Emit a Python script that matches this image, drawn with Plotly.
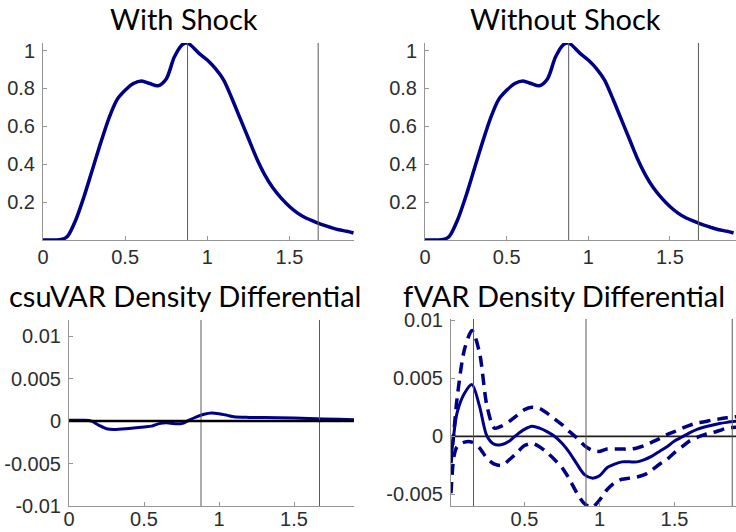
import plotly.graph_objects as go

# ---------------- data ----------------
grid_x = [0.0, 0.05, 0.1, 0.13, 0.15, 0.2, 0.25, 0.3, 0.35, 0.4, 0.45, 0.5, 0.55, 0.6, 0.65, 0.7,
          0.75, 0.8, 0.85, 0.88, 0.9, 0.95, 1.0, 1.05, 1.1, 1.15, 1.2, 1.25, 1.3, 1.35, 1.4,
          1.45, 1.5, 1.55, 1.6, 1.65, 1.7, 1.75, 1.8, 1.85, 1.89]
density_with = [0.0, 0.0, 0.002, 0.008, 0.02, 0.107, 0.23, 0.37, 0.51, 0.64, 0.74, 0.79, 0.826,
                0.84, 0.826, 0.814, 0.85, 0.967, 1.033, 1.04, 1.028, 0.985, 0.95, 0.905, 0.844,
                0.747, 0.642, 0.537, 0.432, 0.344, 0.274, 0.221, 0.177, 0.142, 0.116, 0.098,
                0.081, 0.067, 0.054, 0.046, 0.037]
density_without = [0.0, 0.0, 0.002, 0.008, 0.02, 0.107, 0.23, 0.37, 0.51, 0.64, 0.74, 0.79, 0.826,
                   0.84, 0.826, 0.814, 0.85, 0.967, 1.033, 1.04, 1.028, 0.985, 0.95, 0.905, 0.844,
                   0.747, 0.642, 0.537, 0.432, 0.344, 0.274, 0.221, 0.177, 0.142, 0.116, 0.098,
                   0.081, 0.067, 0.054, 0.046, 0.037]
top_vlines = [0.88, 1.675]

csu_x = [0.0, 0.1, 0.15, 0.2, 0.25, 0.3, 0.4, 0.5, 0.55, 0.6, 0.65, 0.7, 0.75, 0.8, 0.85, 0.9,
         0.95, 1.0, 1.05, 1.1, 1.2, 1.4, 1.6, 1.8, 1.9]
csu_diff = [0.0001, 0.0001, 0.0, -0.0005, -0.0009, -0.001, -0.00087, -0.0007, -0.0006, -0.0003,
            -0.0002, -0.0003, -0.0003, 0.0001, 0.0005, 0.0008, 0.00095, 0.00087, 0.0007, 0.0005,
            0.00043, 0.0004, 0.0003, 0.0002, 0.00015]
csu_vlines = [0.88, 1.67]

f_x = [0.01, 0.03, 0.05, 0.1, 0.15, 0.2, 0.25, 0.3, 0.35, 0.4, 0.45, 0.5, 0.55, 0.6, 0.65, 0.7,
       0.75, 0.8, 0.85, 0.9, 0.95, 1.0, 1.05, 1.1, 1.15, 1.2, 1.25, 1.3, 1.35, 1.4, 1.45, 1.5,
       1.55, 1.6, 1.65, 1.7, 1.75, 1.8, 1.85, 1.92]
f_diff = [-0.002, 0.0003, 0.002, 0.0037, 0.00445, 0.0026, 0.0, -0.0007, -0.0007, -0.0004, 0.00015,
          0.0006, 0.00086, 0.0007, 0.0004, 0.0, -0.0006, -0.0014, -0.0024, -0.0033, -0.0036,
          -0.0034, -0.0027, -0.0024, -0.0022, -0.0022, -0.0022, -0.002, -0.0017, -0.0013,
          -0.0009, -0.0004, -0.00006, 0.0003, 0.0006, 0.0008, 0.00095, 0.0011, 0.0012, 0.0013]
f_upper = [-0.0023, 0.0005, 0.0032, 0.0075, 0.0091, 0.0072, 0.0026, 0.0007, 0.0009, 0.0013,
           0.0018, 0.0023, 0.0025, 0.0024, 0.002, 0.0015, 0.001, 0.0004, -0.00015, -0.0008,
           -0.0012, -0.0013, -0.0011, -0.0011, -0.0011, -0.0011, -0.001, -0.0008, -0.0005,
           -0.0002, 0.00015, 0.0004, 0.0007, 0.00095, 0.00115, 0.00126, 0.0014, 0.0015, 0.0016,
           0.0017]
f_lower = [-0.0049, -0.0017, -0.0009, -0.0005, -0.0005, -0.001, -0.0019, -0.0024, -0.0025, -0.002,
           -0.0014, -0.0008, -0.0006, -0.0009, -0.0014, -0.002, -0.0027, -0.0037, -0.0049,
           -0.0058, -0.0061, -0.0055, -0.0046, -0.004, -0.0037, -0.0036, -0.0035, -0.0033,
           -0.0029, -0.0024, -0.002, -0.0014, -0.0009, -0.0004, -0.0001, 0.00015, 0.0003,
           0.0005, 0.0007, 0.0008]
f_vlines = [0.16, 0.91, 1.885]

titles = ["With Shock", "Without Shock", "csuVAR Density Differential", "fVAR Density Differential"]

# ---------------- styling ----------------
W, H = 736, 532
NAVY = "rgb(0,0,135)"
AX = "rgb(150,150,150)"
TICKFONT = dict(family="Liberation Sans, Arial, sans-serif", size=20, color="rgb(45,45,45)")
TITLEFONT = dict(family="Lato, sans-serif", size=29, color="black")


def px_dom_x(a, b):
    return [a / W, min(b / W, 1.0)]


def px_dom_y(top, bottom):
    return [1 - bottom / H, 1 - top / H]


panels = [
    dict(xd=px_dom_x(43, 354), yd=px_dom_y(43, 240), xr=[0, 1.893], yr=[0, 1.04],
         xt=[0, 0.5, 1, 1.5], xtl=["0", "0.5", "1", "1.5"],
         yt=[0.2, 0.4, 0.6, 0.8, 1], ytl=["0.2", "0.4", "0.6", "0.8", "1"], xstand=-1,
         title_x=184, title_y=19),
    dict(xd=px_dom_x(425, 736), yd=px_dom_y(43, 240), xr=[0, 1.905], yr=[0, 1.04],
         xt=[0, 0.5, 1, 1.5], xtl=["0", "0.5", "1", "1.5"],
         yt=[0.2, 0.4, 0.6, 0.8, 1], ytl=["0.2", "0.4", "0.6", "0.8", "1"], xstand=-1,
         title_x=565, title_y=19),
    dict(xd=px_dom_x(69, 354), yd=px_dom_y(320, 506), xr=[0, 1.9], yr=[-0.01, 0.0119],
         xt=[0, 0.5, 1, 1.5], xtl=["0", "0.5", "1", "1.5"],
         yt=[-0.01, -0.005, 0, 0.005, 0.01], ytl=["-0.01", "-0.005", "0", "0.005", "0.01"], xstand=-5,
         title_x=185, title_y=295),
    dict(xd=px_dom_x(451, 736), yd=px_dom_y(319, 506), xr=[0.01, 1.91], yr=[-0.006, 0.0101],
         xt=[0.5, 1, 1.5], xtl=["0.5", "1", "1.5"],
         yt=[-0.005, 0, 0.005, 0.01], ytl=["-0.005", "0", "0.005", "0.01"], xstand=-5,
         title_x=564, title_y=295),
]

fig = go.Figure()
layout = dict(width=W, height=H, margin=dict(l=0, r=0, t=0, b=0, autoexpand=False),
              paper_bgcolor="white", plot_bgcolor="white", showlegend=False)

shapes = []
annotations = []
for i, p in enumerate(panels):
    n = "" if i == 0 else str(i + 1)
    layout["xaxis" + n] = dict(domain=p["xd"], anchor="y" + n, range=p["xr"], tickvals=p["xt"],
                               ticktext=p["xtl"], ticks="inside", ticklen=4, tickcolor=AX,
                               showline=True, linecolor=AX, linewidth=1, showgrid=False,
                               zeroline=False, tickfont=TICKFONT, ticklabelstandoff=p["xstand"],
                               automargin=False)
    layout["yaxis" + n] = dict(domain=p["yd"], anchor="x" + n, range=p["yr"], tickvals=p["yt"],
                               ticktext=p["ytl"], ticks="inside", ticklen=4, tickcolor=AX,
                               showline=True, linecolor=AX, linewidth=1, showgrid=False,
                               zeroline=False, tickfont=TICKFONT, ticklabelstandoff=3,
                               automargin=False)
    annotations.append(dict(text=titles[i], x=p["title_x"] / W, y=1 - p["title_y"] / H,
                            xref="paper", yref="paper", xanchor="center", yanchor="middle",
                            showarrow=False, font=TITLEFONT))

vl_sets = [top_vlines, top_vlines, csu_vlines, f_vlines]
for i, vls in enumerate(vl_sets):
    n = "" if i == 0 else str(i + 1)
    for v in vls:
        shapes.append(dict(type="line", xref="x" + n, yref="y" + n + " domain", x0=v, x1=v,
                           y0=0, y1=1, line=dict(color="rgb(90,90,90)", width=1), layer="above"))

# zero lines on bottom panels
shapes.append(dict(type="line", xref="x3", yref="y3", x0=0, x1=1.9, y0=0, y1=0,
                   line=dict(color="black", width=2.5), layer="above"))
shapes.append(dict(type="line", xref="x4", yref="y4", x0=0.01, x1=1.95, y0=0, y1=0,
                   line=dict(color="rgb(30,30,30)", width=1.8), layer="below"))

fig.add_trace(go.Scatter(x=grid_x, y=density_with, mode="lines", line=dict(color=NAVY, width=3.5, shape="spline", smoothing=0.8),
                         xaxis="x", yaxis="y"))
fig.add_trace(go.Scatter(x=grid_x, y=density_without, mode="lines", line=dict(color=NAVY, width=3.5, shape="spline", smoothing=0.8),
                         xaxis="x2", yaxis="y2"))
fig.add_trace(go.Scatter(x=csu_x, y=csu_diff, mode="lines", line=dict(color=NAVY, width=3, shape="spline", smoothing=0.8),
                         xaxis="x3", yaxis="y3"))
fig.add_trace(go.Scatter(x=f_x, y=f_upper, mode="lines", line=dict(color=NAVY, width=3.5, dash="11px,7px", shape="spline", smoothing=0.8),
                         xaxis="x4", yaxis="y4"))
fig.add_trace(go.Scatter(x=f_x, y=f_lower, mode="lines", line=dict(color=NAVY, width=3.5, dash="11px,7px", shape="spline", smoothing=0.8),
                         xaxis="x4", yaxis="y4"))
fig.add_trace(go.Scatter(x=f_x, y=f_diff, mode="lines", line=dict(color=NAVY, width=3, shape="spline", smoothing=0.8),
                         xaxis="x4", yaxis="y4"))

layout["shapes"] = shapes
layout["annotations"] = annotations
fig.update_layout(**layout)
fig.write_html("out.html", config={"displayModeBar": False},
               post_script="document.body.style.margin='0';document.body.style.overflow='hidden';")
